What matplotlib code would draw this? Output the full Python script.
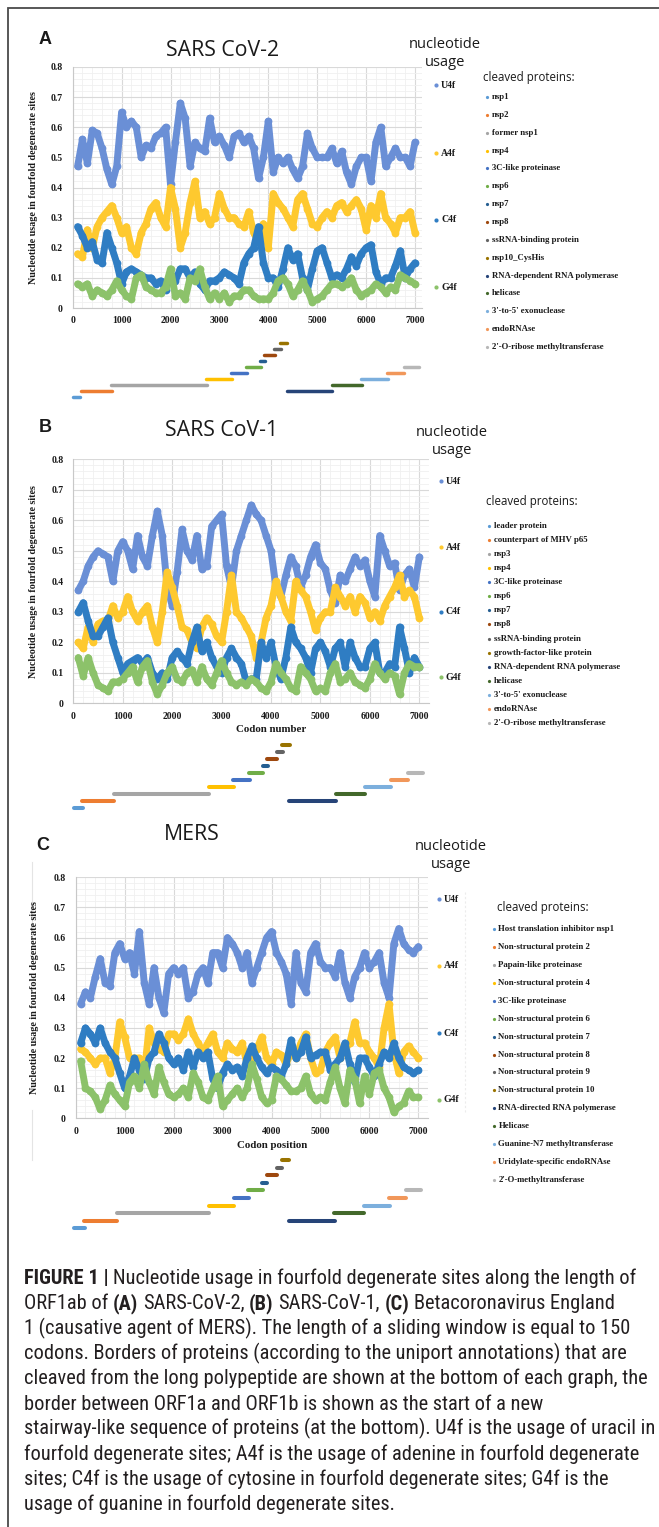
import numpy as np
import matplotlib
matplotlib.use('Agg')
import matplotlib.pyplot as plt
from matplotlib import font_manager
from matplotlib.ticker import MultipleLocator, FuncFormatter

W, H = 659, 1527
DPI = 100

# codon positions of the sliding-window points (read every 100 codons)
codons = list(range(100, 7001, 100))

# ---- panel A: SARS CoV-2
a_u4f = [0.47, 0.56, 0.48, 0.59, 0.58, 0.53, 0.46, 0.41, 0.47, 0.65,
         0.60, 0.62, 0.60, 0.50, 0.54, 0.53, 0.57, 0.58, 0.60, 0.41,
         0.55, 0.68, 0.63, 0.47, 0.55, 0.53, 0.52, 0.63, 0.55, 0.57,
         0.54, 0.50, 0.57, 0.58, 0.55, 0.57, 0.53, 0.43, 0.50, 0.62,
         0.45, 0.50, 0.48, 0.50, 0.46, 0.43, 0.47, 0.58, 0.53, 0.50,
         0.50, 0.50, 0.53, 0.48, 0.52, 0.45, 0.41, 0.47, 0.50, 0.50,
         0.42, 0.55, 0.60, 0.47, 0.50, 0.53, 0.50, 0.50, 0.47, 0.55]
a_a4f = [0.18, 0.17, 0.26, 0.20, 0.27, 0.30, 0.32, 0.34, 0.30, 0.25,
         0.27, 0.20, 0.18, 0.25, 0.28, 0.33, 0.35, 0.30, 0.27, 0.40,
         0.33, 0.20, 0.25, 0.35, 0.42, 0.30, 0.32, 0.28, 0.30, 0.38,
         0.33, 0.30, 0.30, 0.28, 0.27, 0.32, 0.25, 0.22, 0.28, 0.20,
         0.38, 0.35, 0.33, 0.30, 0.27, 0.36, 0.38, 0.33, 0.28, 0.27,
         0.30, 0.32, 0.30, 0.34, 0.35, 0.32, 0.34, 0.36, 0.33, 0.26,
         0.34, 0.30, 0.38, 0.30, 0.28, 0.25, 0.30, 0.30, 0.32, 0.25]
a_c4f = [0.27, 0.24, 0.20, 0.22, 0.16, 0.15, 0.25, 0.20, 0.15, 0.08,
         0.12, 0.13, 0.12, 0.11, 0.10, 0.10, 0.08, 0.09, 0.06, 0.11,
         0.09, 0.13, 0.13, 0.10, 0.12, 0.08, 0.06, 0.09, 0.09, 0.10,
         0.12, 0.11, 0.10, 0.08, 0.15, 0.18, 0.20, 0.27, 0.15, 0.10,
         0.10, 0.07, 0.13, 0.20, 0.16, 0.18, 0.10, 0.06, 0.13, 0.19,
         0.20, 0.15, 0.10, 0.11, 0.10, 0.13, 0.17, 0.14, 0.18, 0.20,
         0.21, 0.12, 0.08, 0.10, 0.10, 0.14, 0.19, 0.10, 0.13, 0.15]
a_g4f = [0.08, 0.07, 0.08, 0.04, 0.06, 0.05, 0.04, 0.06, 0.09, 0.06,
         0.04, 0.03, 0.10, 0.11, 0.07, 0.06, 0.05, 0.05, 0.07, 0.13,
         0.04, 0.05, 0.03, 0.10, 0.09, 0.13, 0.07, 0.03, 0.05, 0.03,
         0.05, 0.02, 0.04, 0.04, 0.06, 0.06, 0.04, 0.03, 0.03, 0.03,
         0.05, 0.09, 0.10, 0.08, 0.04, 0.06, 0.09, 0.06, 0.02, 0.03,
         0.04, 0.06, 0.08, 0.08, 0.07, 0.08, 0.10, 0.06, 0.04, 0.05,
         0.06, 0.08, 0.07, 0.05, 0.07, 0.06, 0.11, 0.10, 0.09, 0.08]
a_proteins = ['nsp1', 'nsp2', 'former nsp1', 'nsp4', '3C-like proteinase', 'nsp6',
              'nsp7', 'nsp8', 'ssRNA-binding protein', 'nsp10_CysHis',
              'RNA-dependent RNA polymerase', 'helicase', "3'-to-5' exonuclease",
              'endoRNAse', "2'-O-ribose methyltransferase"]
a_start = [10, 160, 790, 2735, 3235, 3540, 3835, 3910, 4115, 4230, 4375, 5300, 5905, 6430, 6770]
a_end = [150, 810, 2750, 3250, 3570, 3855, 3935, 4140, 4250, 4385, 5310, 5920, 6445, 6785, 7085]

# ---- panel B: SARS CoV-1
b_u4f = [0.37, 0.40, 0.45, 0.48, 0.50, 0.49, 0.48, 0.40, 0.50, 0.53,
         0.50, 0.44, 0.55, 0.48, 0.45, 0.55, 0.63, 0.55, 0.38, 0.32,
         0.43, 0.57, 0.50, 0.47, 0.55, 0.44, 0.45, 0.58, 0.60, 0.62,
         0.45, 0.38, 0.50, 0.55, 0.60, 0.65, 0.62, 0.60, 0.55, 0.50,
         0.38, 0.35, 0.42, 0.48, 0.45, 0.38, 0.42, 0.48, 0.52, 0.46,
         0.44, 0.37, 0.33, 0.42, 0.40, 0.44, 0.48, 0.45, 0.47, 0.40,
         0.35, 0.55, 0.50, 0.45, 0.46, 0.37, 0.42, 0.44, 0.38, 0.48]
b_a4f = [0.20, 0.18, 0.25, 0.20, 0.26, 0.27, 0.27, 0.32, 0.28, 0.30,
         0.35, 0.30, 0.27, 0.30, 0.32, 0.25, 0.20, 0.30, 0.43, 0.38,
         0.32, 0.25, 0.24, 0.20, 0.18, 0.25, 0.28, 0.26, 0.22, 0.20,
         0.30, 0.42, 0.30, 0.28, 0.25, 0.22, 0.15, 0.20, 0.28, 0.32,
         0.40, 0.35, 0.30, 0.27, 0.40, 0.37, 0.35, 0.30, 0.24, 0.28,
         0.30, 0.30, 0.38, 0.35, 0.32, 0.35, 0.30, 0.35, 0.33, 0.28,
         0.30, 0.27, 0.32, 0.35, 0.38, 0.42, 0.35, 0.37, 0.35, 0.28]
b_c4f = [0.30, 0.33, 0.27, 0.22, 0.22, 0.25, 0.28, 0.20, 0.15, 0.10,
         0.13, 0.14, 0.15, 0.13, 0.15, 0.10, 0.08, 0.10, 0.08, 0.15,
         0.17, 0.15, 0.13, 0.20, 0.25, 0.17, 0.20, 0.15, 0.12, 0.10,
         0.15, 0.18, 0.15, 0.13, 0.07, 0.08, 0.08, 0.20, 0.15, 0.20,
         0.12, 0.08, 0.15, 0.25, 0.20, 0.18, 0.15, 0.10, 0.18, 0.20,
         0.17, 0.12, 0.18, 0.20, 0.12, 0.20, 0.15, 0.12, 0.12, 0.18,
         0.20, 0.10, 0.10, 0.13, 0.12, 0.25, 0.18, 0.10, 0.15, 0.12]
b_g4f = [0.15, 0.09, 0.15, 0.10, 0.06, 0.05, 0.04, 0.07, 0.07, 0.08,
         0.10, 0.12, 0.07, 0.12, 0.14, 0.07, 0.03, 0.06, 0.10, 0.12,
         0.08, 0.07, 0.10, 0.11, 0.07, 0.12, 0.08, 0.06, 0.10, 0.14,
         0.10, 0.07, 0.06, 0.07, 0.06, 0.08, 0.07, 0.05, 0.04, 0.07,
         0.13, 0.10, 0.08, 0.05, 0.04, 0.12, 0.10, 0.08, 0.04, 0.05,
         0.04, 0.10, 0.13, 0.07, 0.08, 0.10, 0.07, 0.06, 0.05, 0.08,
         0.13, 0.10, 0.08, 0.10, 0.09, 0.03, 0.10, 0.13, 0.12, 0.12]
b_proteins = ['leader protein', 'counterpart of MHV p65', 'nsp3', 'nsp4', '3C-like proteinase',
              'nsp6', 'nsp7', 'nsp8', 'ssRNA-binding protein', 'growth-factor-like protein',
              'RNA-dependent RNA polymerase', 'helicase', "3'-to-5' exonuclease",
              'endoRNAse', "2'-O-ribose methyltransferase"]
b_start = [10, 185, 820, 2745, 3240, 3550, 3835, 3920, 4115, 4230, 4370, 5305, 5905, 6420, 6765]
b_end = [190, 830, 2755, 3255, 3565, 3845, 3930, 4130, 4245, 4380, 5310, 5905, 6430, 6780, 7075]

# ---- panel C: MERS
c_u4f = [0.38, 0.42, 0.40, 0.47, 0.53, 0.45, 0.44, 0.55, 0.58, 0.53,
         0.55, 0.48, 0.62, 0.45, 0.38, 0.50, 0.40, 0.35, 0.48, 0.50,
         0.48, 0.50, 0.40, 0.42, 0.48, 0.50, 0.45, 0.55, 0.55, 0.50,
         0.60, 0.58, 0.55, 0.50, 0.55, 0.45, 0.50, 0.55, 0.60, 0.62,
         0.55, 0.52, 0.48, 0.38, 0.55, 0.45, 0.42, 0.55, 0.58, 0.52,
         0.50, 0.50, 0.47, 0.55, 0.45, 0.40, 0.47, 0.50, 0.55, 0.50,
         0.52, 0.55, 0.45, 0.40, 0.58, 0.63, 0.58, 0.56, 0.55, 0.57]
c_a4f = [0.23, 0.22, 0.20, 0.18, 0.20, 0.20, 0.15, 0.20, 0.32, 0.27,
         0.20, 0.20, 0.20, 0.15, 0.30, 0.25, 0.23, 0.22, 0.28, 0.28,
         0.26, 0.28, 0.33, 0.28, 0.25, 0.22, 0.25, 0.28, 0.22, 0.20,
         0.25, 0.23, 0.22, 0.25, 0.18, 0.20, 0.23, 0.27, 0.20, 0.18,
         0.22, 0.21, 0.18, 0.22, 0.20, 0.25, 0.28, 0.20, 0.15, 0.16,
         0.22, 0.25, 0.27, 0.20, 0.23, 0.25, 0.32, 0.25, 0.25, 0.22,
         0.20, 0.17, 0.30, 0.38, 0.22, 0.15, 0.22, 0.24, 0.22, 0.20]
c_c4f = [0.25, 0.30, 0.28, 0.25, 0.30, 0.25, 0.22, 0.20, 0.15, 0.10,
         0.14, 0.20, 0.16, 0.13, 0.20, 0.22, 0.28, 0.25, 0.20, 0.18,
         0.20, 0.16, 0.22, 0.17, 0.22, 0.20, 0.22, 0.13, 0.10, 0.15,
         0.18, 0.16, 0.17, 0.14, 0.20, 0.24, 0.20, 0.17, 0.15, 0.17,
         0.16, 0.14, 0.18, 0.26, 0.20, 0.22, 0.27, 0.20, 0.21, 0.22,
         0.22, 0.16, 0.18, 0.20, 0.25, 0.18, 0.12, 0.20, 0.20, 0.17,
         0.14, 0.18, 0.22, 0.20, 0.25, 0.20, 0.17, 0.16, 0.15, 0.16]
c_g4f = [0.19, 0.10, 0.09, 0.07, 0.03, 0.06, 0.11, 0.08, 0.06, 0.04,
         0.12, 0.14, 0.10, 0.18, 0.12, 0.08, 0.17, 0.12, 0.08, 0.07,
         0.08, 0.10, 0.07, 0.15, 0.12, 0.07, 0.06, 0.10, 0.14, 0.04,
         0.06, 0.08, 0.10, 0.07, 0.10, 0.18, 0.13, 0.07, 0.05, 0.06,
         0.14, 0.13, 0.11, 0.09, 0.09, 0.10, 0.14, 0.08, 0.06, 0.07,
         0.06, 0.12, 0.17, 0.10, 0.05, 0.16, 0.13, 0.05, 0.14, 0.08,
         0.15, 0.16, 0.10, 0.07, 0.02, 0.04, 0.05, 0.09, 0.07, 0.07]
c_proteins = ['Host translation inhibitor nsp1', 'Non-structural protein 2', 'Papain-like proteinase',
              'Non-structural protein 4', '3C-like proteinase', 'Non-structural protein 6',
              'Non-structural protein 7', 'Non-structural protein 8', 'Non-structural protein 9',
              'Non-structural protein 10', 'RNA-directed RNA polymerase', 'Helicase',
              'Guanine-N7 methyltransferase', 'Uridylate-specific endoRNAse', "2'-O-methyltransferase"]
c_start = [-30, 175, 835, 2720, 3225, 3525, 3815, 3905, 4110, 4210, 4355, 5285, 5880, 6410, 6745]
c_end = [180, 840, 2725, 3240, 3535, 3820, 3915, 4110, 4215, 4355, 5295, 5885, 6415, 6755, 7060]

nucleotides = ['U4f', 'A4f', 'C4f', 'G4f']
nuc_colors = ['#6a8fd6', '#fec92f', '#2f7dc3', '#8cc26a']
prot_colors = ['#5B9BD5', '#ED7D31', '#A5A5A5', '#FFC000', '#4472C4', '#70AD47', '#255E91',
               '#9E480E', '#636363', '#997300', '#264478', '#43682B', '#7CAFDD', '#F1975A', '#B7B7B7']
prot_levels = [0, 1, 2, 3, 4, 5, 6, 7, 8, 9, 1, 2, 3, 4, 5]

caption = [
    [("FIGURE 1 |", True), (" Nucleotide usage in fourfold degenerate sites along the length of", False)],
    [("ORF1ab of ", False), ("(A)", True), (" SARS-CoV-2, ", False), ("(B)", True),
     (" SARS-CoV-1, ", False), ("(C)", True), (" Betacoronavirus England", False)],
    [("1 (causative agent of MERS). The length of a sliding window is equal to 150", False)],
    [("codons. Borders of proteins (according to the uniport annotations) that are", False)],
    [("cleaved from the long polypeptide are shown at the bottom of each graph, the", False)],
    [("border between ORF1a and ORF1b is shown as the start of a new", False)],
    [("stairway-like sequence of proteins (at the bottom). U4f is the usage of uracil in", False)],
    [("fourfold degenerate sites; A4f is the usage of adenine in fourfold degenerate", False)],
    [("sites; C4f is the usage of cytosine in fourfold degenerate sites; G4f is the", False)],
    [("usage of guanine in fourfold degenerate sites.", False)],
]

# layout (pixel positions in the figure)
panels = [
    dict(letter='A', letter_xy=(45, 40), title='SARS CoV-2', title_xy=(223, 50),
         left=72.7, top=67, bottom=308, ppk=48.9, xmax=7150, xlabel=None, ylab_x=38,
         series=[a_u4f, a_a4f, a_c4f, a_g4f], proteins=a_proteins, start=a_start, end=a_end,
         lvl0=397.3, step=6.07, bar_lw=2.5,
         nuc_x=445, nuc_y=(44, 63), leg_x=436, leg_y=[85, 153, 220, 287],
         cp_xy=(483, 77), prot_x=487, prot_y0=97, prot_dy=17.86),
    dict(letter='B', letter_xy=(45, 428), title='SARS CoV-1', title_xy=(222, 431),
         left=73.3, top=459.3, bottom=703.3, ppk=49.43, xmax=7200, xlabel='Codon number',
         xlab_xy=(271, 729), ylab_x=38,
         series=[b_u4f, b_a4f, b_c4f, b_g4f], proteins=b_proteins, start=b_start, end=b_end,
         lvl0=808.3, step=7.03, bar_lw=2.9,
         nuc_x=452, nuc_y=(432, 450), leg_x=441, leg_y=[481, 547, 612, 677],
         cp_xy=(486, 501), prot_x=489, prot_y0=526, prot_dy=14.07),
    dict(letter='C', letter_xy=(43, 845), title='MERS', title_xy=(192, 835),
         left=75.7, top=877.3, bottom=1118.3, ppk=48.95, xmax=7200, xlabel='Codon position',
         xlab_xy=(272, 1145), ylab_x=39,
         series=[c_u4f, c_a4f, c_c4f, c_g4f], proteins=c_proteins, start=c_start, end=c_end,
         lvl0=1228.3, step=7.59, bar_lw=2.9,
         nuc_x=451, nuc_y=(846, 865), leg_x=439, leg_y=[899, 966, 1033, 1100],
         cp_xy=(497, 907), prot_x=494, prot_y0=929, prot_dy=17.93),
]

available = {f.name for f in font_manager.fontManager.ttflist}
SERIF = 'Liberation Serif'
SANS = 'Open Sans'
CAP_FONT = 'Roboto'
for cand in ['Liberation Sans Narrow', 'Roboto Condensed', 'Arial Narrow']:
    if cand in available:
        CAP_FONT = cand
        break


def rect(left, top, right, bottom):
    return [left / W, 1 - bottom / H, (right - left) / W, (bottom - top) / H]


fig = plt.figure(figsize=(W / DPI, H / DPI), dpi=DPI)
fig.patch.set_facecolor('white')

over = fig.add_axes([0, 0, 1, 1])
over.set_xlim(0, W)
over.set_ylim(H, 0)
over.axis('off')

# outer frame
over.plot([8, 8, W + 5], [H + 5, 8, 8], color='#4a4a4a', lw=1.3, solid_joinstyle='miter')

for p in panels:
    right = p['left'] + p['xmax'] / 1000 * p['ppk']
    ax = fig.add_axes(rect(p['left'], p['top'], right, p['bottom']))
    for vals, col in zip(p['series'], nuc_colors):
        ax.plot(codons, vals, color=col, lw=5.0, marker='o', ms=5.6, mew=0,
                solid_joinstyle='round', solid_capstyle='round', zorder=3)
    ax.set_xlim(0, p['xmax'])
    ax.set_ylim(0, 0.8)
    ax.xaxis.set_major_locator(MultipleLocator(1000))
    ax.xaxis.set_minor_locator(MultipleLocator(200))
    ax.yaxis.set_major_locator(MultipleLocator(0.1))
    ax.yaxis.set_minor_locator(MultipleLocator(0.02))
    ax.xaxis.set_major_formatter(FuncFormatter(lambda v, pos: '%d' % v if v <= 7000 else ''))
    ax.yaxis.set_major_formatter(FuncFormatter(lambda v, pos: '0' if abs(v) < 1e-9 else '%.1f' % v))
    ax.set_axisbelow(True)
    ax.grid(which='major', color='#d9d9d9', lw=0.8)
    ax.grid(which='minor', color='#f0f0f0', lw=0.6)
    ax.tick_params(which='both', length=0, labelsize=7, colors='#1a1a1a')
    ax.tick_params(axis='y', pad=7)
    ax.tick_params(axis='x', pad=6)
    for s in ('top', 'right'):
        ax.spines[s].set_visible(False)
    for s in ('left', 'bottom'):
        ax.spines[s].set_color('#c8c8c8')
        ax.spines[s].set_linewidth(0.8)
    for t in ax.get_xticklabels() + ax.get_yticklabels():
        t.set_fontfamily(SERIF)
        t.set_fontweight('bold')
    ax.set_ylabel('Nucleotide usage in fourfold degenerate sites', fontsize=7.3,
                  fontfamily=SERIF, fontweight='bold', color='#1a1a1a')
    ax.yaxis.set_label_coords((p['ylab_x'] - p['left']) / (right - p['left']), 0.5)
    if p['xlabel']:
        over.text(p['xlab_xy'][0], p['xlab_xy'][1], p['xlabel'], fontsize=7.8, family=SERIF,
                  weight='bold', ha='center', va='center', color='#1a1a1a')

    # protein bars under the chart, same codon scale
    bx = fig.add_axes(rect(p['left'], p['lvl0'] - 9.5 * p['step'], right, p['lvl0'] + 0.5 * p['step']))
    bx.set_xlim(0, p['xmax'])
    bx.set_ylim(-0.5, 9.5)
    bx.axis('off')
    for s0, s1, lv, col in zip(p['start'], p['end'], prot_levels, prot_colors):
        bx.plot([s0, s1], [lv, lv], color=col, lw=p['bar_lw'], solid_capstyle='round', clip_on=False)

    # texts
    over.text(*p['letter_xy'], p['letter'], fontsize=13, family='Liberation Sans', weight='bold',
              ha='center', va='center', color='#1a1a1a')
    over.text(*p['title_xy'], p['title'], fontsize=15.3, family=SANS, ha='center', va='center',
              color='#1a1a1a')
    over.text(p['nuc_x'], p['nuc_y'][0], 'nucleotide', fontsize=10.5, family=SANS, ha='center',
              va='center', color='#1a1a1a')
    over.text(p['nuc_x'], p['nuc_y'][1], 'usage', fontsize=10.5, family=SANS, ha='center',
              va='center', color='#1a1a1a')
    for name, col, y in zip(nucleotides, nuc_colors, p['leg_y']):
        over.plot([p['leg_x']], [y], 'o', color=col, ms=3.0, mew=0)
        over.text(p['leg_x'] + 5, y, name, fontsize=7, family=SERIF, weight='bold',
                  ha='left', va='center', color='#1a1a1a')
    over.text(*p['cp_xy'], 'cleaved proteins:', fontsize=8.3, family=SANS, ha='left',
              va='center', color='#1a1a1a')
    for i, (name, col) in enumerate(zip(p['proteins'], prot_colors)):
        y = p['prot_y0'] + i * p['prot_dy']
        over.plot([p['prot_x']], [y], 'o', color=col, ms=2.3, mew=0)
        over.text(p['prot_x'] + 4.5, y, name, fontsize=6.3, family=SERIF, weight='bold',
                  ha='left', va='center', color='#1a1a1a')

# faint chart-area borders in panel C
over.plot([32, 32], [862, 945], color='#e4e4e4', lw=0.8)
over.plot([32, 32], [1110, 1160], color='#e4e4e4', lw=0.8)
over.plot([465, 465], [892, 1113], color='#ececec', lw=0.8, ls=(0, (2, 2)))

# caption
renderer = fig.canvas.get_renderer()


def text_width(s, size, bold):
    t = over.text(0, 0, s, fontsize=size, family=CAP_FONT, weight='bold' if bold else 'normal')
    w = t.get_window_extent(renderer=renderer).width
    t.remove()
    return w


def line_width(runs, size):
    sp = text_width('x x', size, False) - text_width('xx', size, False)
    w = 0
    for s, b in runs:
        lead = len(s) - len(s.lstrip(' '))
        trail = len(s) - len(s.rstrip(' '))
        w += (lead + trail) * sp + text_width(s.strip(), size, b)
    return w, sp


cap_x0, cap_y0, cap_dy = 24, 1284, 25.1
base = 12
widest = max(line_width(runs, base)[0] for runs in caption)
cap_size = base * (652 - cap_x0) / widest
for i, runs in enumerate(caption):
    _, sp = line_width(runs, cap_size)
    x = cap_x0
    y = cap_y0 + i * cap_dy
    for s, b in runs:
        lead = len(s) - len(s.lstrip(' '))
        trail = len(s) - len(s.rstrip(' '))
        x += lead * sp
        t = over.text(x, y, s.strip(), fontsize=cap_size, family=CAP_FONT,
                      weight='bold' if b else 'normal', ha='left', va='baseline', color='#231f20')
        x += t.get_window_extent(renderer=renderer).width + trail * sp

fig.savefig('out.png', dpi=DPI, facecolor='white')
